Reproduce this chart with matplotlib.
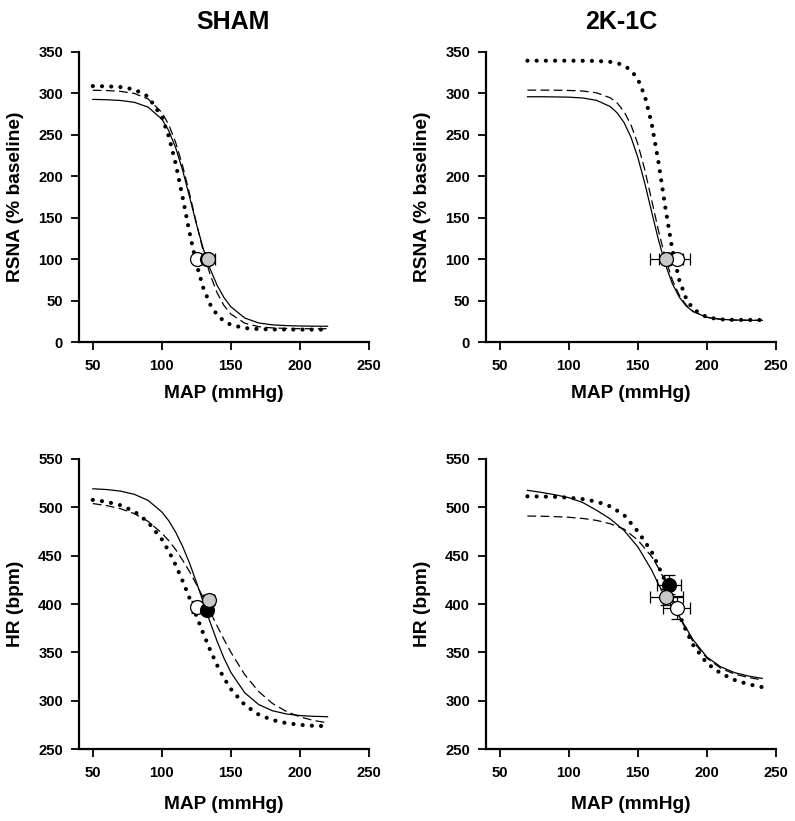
import matplotlib
matplotlib.use("Agg")
import matplotlib.pyplot as plt

plt.rcParams['font.family'] = ['Liberation Sans', 'DejaVu Sans']
plt.rcParams['font.weight'] = 'bold'

# ---------------- data ----------------
panel_titles = ["SHAM", "2K-1C"]
x_label = "MAP (mmHg)"
y_label_rsna = "RSNA (% baseline)"
y_label_hr = "HR (bpm)"
x_ticks = [50, 100, 150, 200, 250]
rsna_ticks = [0, 50, 100, 150, 200, 250, 300, 350]
hr_ticks = [250, 300, 350, 400, 450, 500, 550]

# SHAM RSNA curves
sham_x = [50, 60, 70, 80, 90, 100, 105, 110, 115, 120, 125, 130, 135, 140, 145,
          150, 160, 170, 180, 190, 200, 210, 220]
sham_rsna_solid = [292.8, 292.4, 291.5, 289.3, 283.5, 269.0, 255.0, 234.5, 207.5, 175.5,
                   142.5, 112.5, 88.0, 68.5, 53.5, 42.5, 29.0, 23.0, 20.7, 19.8, 19.3, 19.1, 19.0]
sham_rsna_dashed = [303.8, 303.5, 302.5, 300.0, 293.4, 277.1, 262.2, 240.8, 212.9, 179.4,
                    143.5, 109.6, 81.2, 59.4, 44.0, 33.7, 22.7, 18.5, 17.0, 16.4, 16.1, 16.0, 16.0]
sham_rsna_dotted = [308.9, 308.6, 307.7, 304.9, 296.3, 271.8, 248.1, 215.3, 174.9, 132.4,
                    94.5, 65.3, 45.3, 32.7, 25.1, 20.7, 16.8, 15.6, 15.2, 15.1, 15.0, 15.0, 15.0]

# 2K-1C RSNA curves
k_x = [70, 80, 90, 100, 110, 120, 130, 135, 140, 145, 150, 155, 160, 165, 170, 175,
       180, 185, 190, 200, 210, 220, 230, 240]
k_rsna_solid = [296.0, 296.0, 295.8, 295.5, 294.5, 291.7, 284.1, 276.5, 264.7, 247.1, 222.5,
                191.5, 156.7, 122.5, 93.0, 70.2, 54.1, 43.4, 36.6, 29.8, 27.4, 26.5, 26.2, 26.1]
k_rsna_dashed = [304.0, 304.0, 303.9, 303.6, 302.9, 300.8, 294.7, 288.4, 278.0, 262.0, 238.7,
                 207.7, 171.0, 133.6, 100.5, 74.6, 56.4, 44.5, 37.0, 29.8, 27.3, 26.5, 26.2, 26.1]
k_rsna_dotted = [339.5, 339.5, 339.5, 339.5, 339.4, 339.2, 338.1, 336.6, 333.6, 328.0, 317.1,
                 297.0, 263.6, 215.9, 160.9, 110.9, 74.5, 52.2, 39.6, 29.8, 27.3, 26.7, 26.6, 26.5]

# SHAM HR curves
sham_hr_solid = [519.2, 518.4, 516.8, 513.5, 507.2, 495.2, 486.1, 474.3, 459.7, 442.4, 422.7,
                 401.9, 381.0, 361.5, 343.9, 329.2, 308.2, 296.1, 289.6, 286.3, 284.6, 283.8, 283.4]
sham_hr_dashed = [503.9, 501.8, 498.6, 493.5, 485.5, 473.3, 465.5, 456.3, 445.4, 433.6, 420.4,
                  406.4, 391.9, 377.4, 363.3, 350.1, 327.0, 309.6, 297.2, 289.0, 283.2, 279.5, 277.0]
sham_hr_dotted = [507.7, 505.7, 502.2, 495.8, 484.8, 466.8, 454.6, 440.3, 424.0, 406.2, 387.8,
                  369.5, 352.3, 336.7, 323.3, 312.0, 295.6, 285.7, 280.0, 276.8, 275.0, 274.0, 273.6]

# 2K-1C HR curves
k_hr_x = [70, 80, 90, 100, 110, 120, 130, 140, 150, 160, 165, 170, 175, 180, 185, 190,
          200, 210, 220, 230, 240]
k_hr_solid = [517.6, 515.5, 513.0, 510.0, 505.0, 497.0, 488.0, 476.0, 459.0, 435.0, 420.0,
              407.0, 397.0, 387.0, 375.0, 363.0, 345.0, 335.0, 329.0, 325.5, 323.0]
k_hr_dashed = [491.0, 490.8, 490.4, 489.7, 488.5, 486.5, 483.0, 477.5, 466.0, 449.0, 437.0,
               423.0, 405.0, 387.0, 373.0, 361.0, 344.0, 333.5, 327.5, 324.0, 321.5]
k_hr_dotted = [511.4, 511.2, 510.8, 510.0, 508.5, 506.0, 501.0, 492.0, 475.0, 454.0, 438.6,
               423.0, 405.0, 388.6, 372.0, 357.6, 338.6, 328.3, 321.4, 317.0, 314.0]

# baseline points (x, y, xerr, yerr) per group: white, black, gray
sham_rsna_pts = {"white": (125.5, 100, 3, 0), "black": (132.5, 100, 4, 0), "gray": (133.5, 100, 5, 0)}
k_rsna_pts = {"white": (178, 100, 10, 0), "black": (171, 100, 6, 0), "gray": (170.5, 100, 12, 0)}
sham_hr_pts = {"white": (125.5, 397, 4, 6), "black": (133, 394, 3, 4), "gray": (134, 404, 4, 5)}
k_hr_pts = {"white": (178, 396, 10, 12), "black": (172.5, 420, 9, 10), "gray": (170.5, 407, 12, 8)}

# ---------------- figure ----------------
W, H = 795, 821
fig = plt.figure(figsize=(W / 100, H / 100), dpi=100)

def ax_at(l, t, r, b):
    return fig.add_axes([l / W, 1 - b / H, (r - l) / W, (b - t) / H])

face = {"white": "white", "black": "black", "gray": "#c8c8c8"}

def style(ax, ylim, yticks, xlab_y):
    ax.set_xlim(40, 250)
    ax.set_ylim(*ylim)
    ax.set_xticks(x_ticks)
    ax.set_yticks(yticks)
    for s in ("top", "right"):
        ax.spines[s].set_visible(False)
    for s in ("left", "bottom"):
        ax.spines[s].set_linewidth(1.6)
    ax.tick_params(direction="out", length=6, width=1.3, labelsize=10.7)
    ax.tick_params(axis="x", pad=6.5)
    ax.tick_params(axis="y", pad=5.5)
    for lab in ax.get_xticklabels() + ax.get_yticklabels():
        lab.set_fontweight("bold")
    ax.set_xlabel(x_label, fontsize=13.8, fontweight="bold")
    ax.xaxis.set_label_coords(0.5, xlab_y)

def curves(ax, x, solid, dashed, dotted):
    ax.plot(x, solid, color="black", lw=0.9)
    ax.plot(x, dashed, color="black", lw=0.9, ls=(0, (7, 3.5)))
    ax.plot(x, dotted, color="black", lw=3.0, ls=(0, (0.01, 2.2)), dash_capstyle="round")

def points(ax, pts, order):
    for k in order:
        x, y, xe, ye = pts[k]
        ax.errorbar([x], [y], xerr=[xe] if xe else None, yerr=[ye] if ye else None,
                    fmt="o", ms=10, mfc=face[k], mec="black", mew=0.9, ecolor="black",
                    elinewidth=0.9, capsize=4, capthick=0.9, zorder=5)

ax1 = ax_at(79, 52, 369, 342)
ax2 = ax_at(486, 52, 776, 342)
ax3 = ax_at(79, 459, 369, 749)
ax4 = ax_at(486, 459, 776, 749)

style(ax1, (0, 350), rsna_ticks, -0.150)
style(ax2, (0, 350), rsna_ticks, -0.150)
style(ax3, (250, 550), hr_ticks, -0.163)
style(ax4, (250, 550), hr_ticks, -0.163)

for ax, lab in ((ax1, y_label_rsna), (ax2, y_label_rsna), (ax3, y_label_hr), (ax4, y_label_hr)):
    ax.set_ylabel(lab, fontsize=13.8, fontweight="bold")
    ax.yaxis.set_label_coords(-0.19, 0.5)

curves(ax1, sham_x, sham_rsna_solid, sham_rsna_dashed, sham_rsna_dotted)
curves(ax2, k_x, k_rsna_solid, k_rsna_dashed, k_rsna_dotted)
curves(ax3, sham_x, sham_hr_solid, sham_hr_dashed, sham_hr_dotted)
curves(ax4, k_hr_x, k_hr_solid, k_hr_dashed, k_hr_dotted)

points(ax1, sham_rsna_pts, ["white", "black", "gray"])
points(ax2, k_rsna_pts, ["black", "white", "gray"])
points(ax3, sham_hr_pts, ["white", "black", "gray"])
points(ax4, k_hr_pts, ["black", "gray", "white"])

fig.text(233 / W, 1 - 22 / H, panel_titles[0], ha="center", va="center",
         fontsize=18, fontweight="bold")
fig.text(621 / W, 1 - 22 / H, panel_titles[1], ha="center", va="center",
         fontsize=18, fontweight="bold")

fig.savefig("out.png", dpi=100)
